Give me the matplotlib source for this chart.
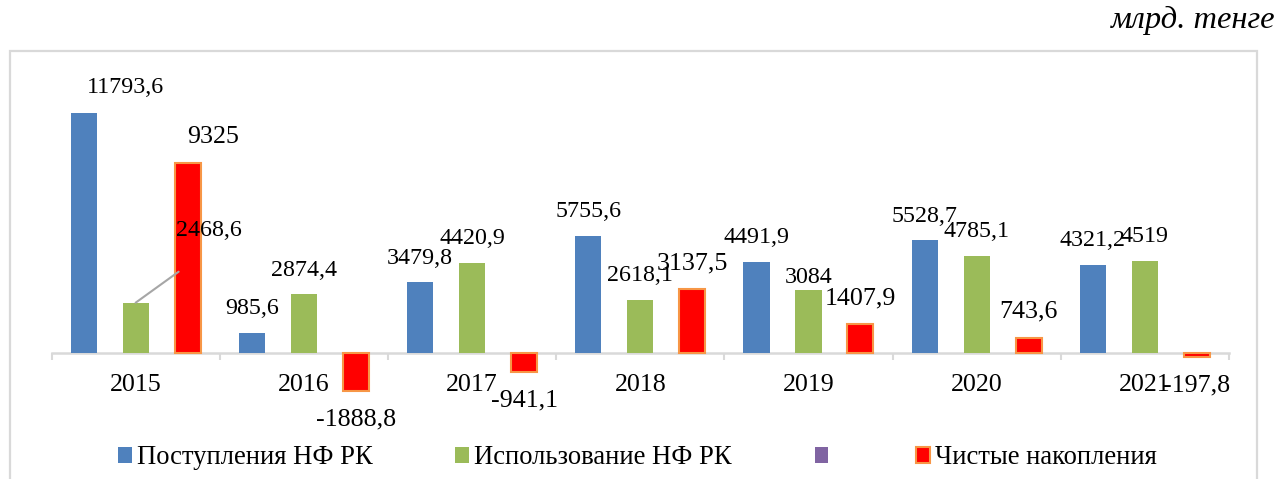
import matplotlib
matplotlib.use("Agg")
import matplotlib.pyplot as plt
from matplotlib.patches import Patch, Rectangle

plt.rcParams['font.family'] = ['Liberation Serif', 'DejaVu Serif']

years = ["2015", "2016", "2017", "2018", "2019", "2020", "2021"]
inflow = [11793.6, 985.6, 3479.8, 5755.6, 4491.9, 5528.7, 4321.2]
usage = [2468.6, 2874.4, 4420.9, 2618.1, 3084, 4785.1, 4519]
empty = [0, 0, 0, 0, 0, 0, 0]
net = [9325, -1888.8, -941.1, 3137.5, 1407.9, 743.6, -197.8]
names = ["Поступления НФ РК", "Использование НФ РК", "", "Чистые накопления"]

BLUE, GREEN, PURPLE, RED = "#4F81BD", "#9BBB59", "#8064A2", "#FF0000"
EDGE_RED = "#F79646"
GRID = "#D9D9D9"

W, H = 1279, 479
fig = plt.figure(figsize=(W / 100, H / 100), dpi=100)

# light outer frame of the chart area
fig.patches.append(Rectangle((9.5 / W, -0.2), 1247.5 / W, 1.2 - 51 / H,
                             transform=fig.transFigure, fill=False,
                             edgecolor=GRID, linewidth=1.6))

ax = fig.add_axes([51.5 / W, 1 - 440 / H, 1177.5 / W, 380 / H])
x = range(len(years))
bw = 0.155
off = 0.309


def px(v):
    # pixels -> points
    return v * 72 / 100


def label(v):
    return f"{v:g}".replace(".", ",")


series = [
    (inflow, -off, BLUE, "none", 17.3),
    (usage, 0.0, GREEN, "none", 17.3),
    (empty, -off / 2, PURPLE, "none", 17.3),
    (net, off, RED, EDGE_RED, 18.7),
]

# manual label shifts (pixels) where the original labels were dragged
shifts = {(0, 0): (42, 25), (1, 0): (73, 72), (3, 0): (25, 26), (1, 4): (0, 13)}

for si, (vals, o, col, ec, fs) in enumerate(series):
    xs = [i + o for i in x]
    ax.bar(xs, vals, width=bw, color=col, edgecolor=ec,
           linewidth=1.5 if ec != "none" else 0, zorder=3)
    if si == 2:
        continue
    for i, v in enumerate(vals):
        dflt = 26 if si == 3 else 24
        dx, dy = shifts.get((si, i), (0, dflt if v >= 0 else -28))
        ax.annotate(label(v), (xs[i], v), xytext=(px(dx), px(dy)),
                    textcoords="offset points", ha="center", va="center",
                    fontsize=fs, color="black", zorder=4)

# leader line for the moved 2015 usage label
ax.annotate("", (0, usage[0]), xytext=(px(43), px(31)),
            textcoords="offset points",
            arrowprops=dict(arrowstyle="-", color="#A6A6A6", lw=1.5,
                            shrinkA=0, shrinkB=0))

ax.set_xlim(-0.5, len(years) - 0.5)
ax.set_ylim(-4272, 14386)
for s in ["top", "left", "right"]:
    ax.spines[s].set_visible(False)
ax.spines["bottom"].set_position(("data", 0))
ax.spines["bottom"].set_color(GRID)
ax.spines["bottom"].set_linewidth(1.8)
ax.spines["bottom"].set_zorder(2)
ax.set_yticks([])
ax.set_xticks(list(x))
ax.set_xticklabels(years, fontsize=18.7)
ax.set_xticks([i - 0.5 for i in range(len(years) + 1)], minor=True)
ax.tick_params(axis="x", which="major", length=0, pad=15)
ax.tick_params(axis="x", which="minor", length=5, width=1.5, color=GRID,
               direction="out")
ax.patch.set_alpha(0)

handles = [Patch(facecolor=BLUE, edgecolor="none"),
           Patch(facecolor=GREEN, edgecolor="none"),
           Patch(facecolor=PURPLE, edgecolor="none"),
           Patch(facecolor=RED, edgecolor=EDGE_RED, linewidth=1.5)]
fig.legend(handles, names, loc="center", bbox_to_anchor=(0.4984, 1 - 458 / H),
           ncol=4, frameon=False, fontsize=19.2, handlelength=0.52,
           handleheight=0.52, handletextpad=0.19, columnspacing=3.1)

fig.text(1275 / W, 1 - 28 / H, "млрд. тенге", ha="right", va="baseline",
         fontsize=23.4, style="italic")

fig.savefig("out.png", dpi=100)
